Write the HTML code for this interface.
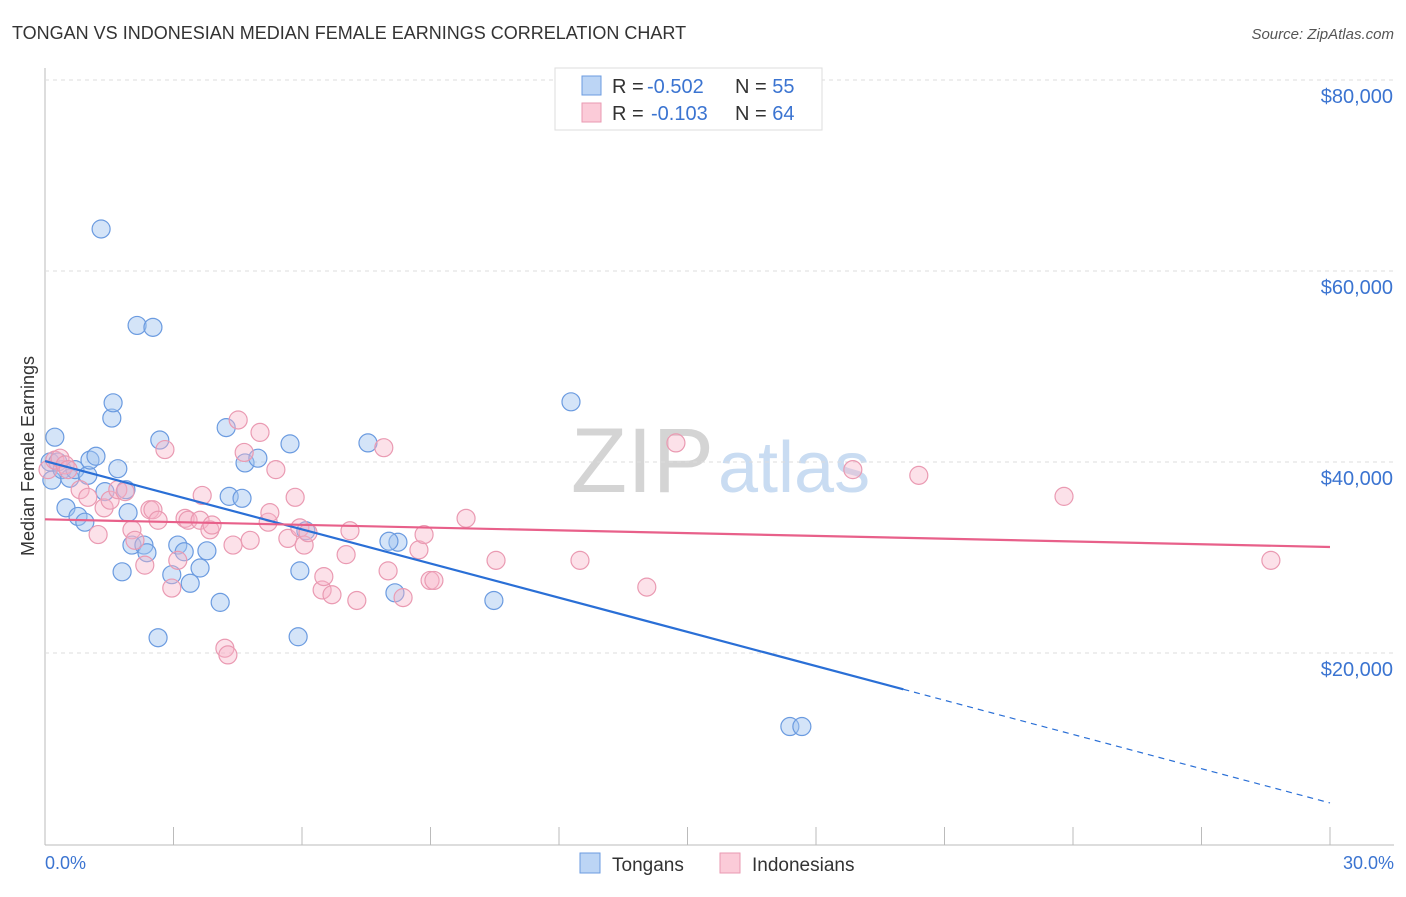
<!DOCTYPE html>
<html><head><meta charset="utf-8"><style>
body{margin:0;background:#fff;font-family:"Liberation Sans",sans-serif}
svg text{font-family:"Liberation Sans",sans-serif}
</style></head><body>
<svg id="c" width="1406" height="892">
<text x="12" y="39" font-size="18" fill="#333">TONGAN VS INDONESIAN MEDIAN FEMALE EARNINGS CORRELATION CHART</text>
<text x="1394" y="39" font-size="15" fill="#555" font-style="italic" text-anchor="end">Source: ZipAtlas.com</text>
<text x="714" y="492" font-size="92" fill="#d4d4d4" text-anchor="end" font-family="Liberation Serif">ZIP</text>
<text x="718" y="492" font-size="72" fill="#c9dcf2">atlas</text>
<g id="grid"></g><g id="pts"></g><g id="lines"></g>
<text transform="translate(34,456) rotate(-90)" font-size="18" fill="#333" text-anchor="middle">Median Female Earnings</text>
<text x="45" y="869" font-size="18" fill="#3b74d1">0.0%</text>
<text x="1394" y="869" font-size="18" fill="#3b74d1" text-anchor="end">30.0%</text>
<g>
<rect x="555" y="68" width="267" height="62" fill="#fff" stroke="#ddd"/>
<rect x="582" y="76" width="19" height="19" fill="#bcd5f5" stroke="#6b9be0"/>
<rect x="582" y="103" width="19" height="19" fill="#fbcbd8" stroke="#ea9ab2"/>
<text x="612" y="93" font-size="20" fill="#333">R =</text>
<text x="647" y="93" font-size="20" fill="#3b74d1">-0.502</text>
<text x="735" y="93" font-size="20" fill="#333">N = <tspan fill="#3b74d1">55</tspan></text>
<text x="612" y="120" font-size="20" fill="#333">R =</text>
<text x="651" y="120" font-size="20" fill="#3b74d1">-0.103</text>
<text x="735" y="120" font-size="20" fill="#333">N = <tspan fill="#3b74d1">64</tspan></text>
</g>
<g>
<rect x="580" y="853" width="20" height="20" fill="#bcd5f5" stroke="#6b9be0"/>
<text x="612" y="871" font-size="19" fill="#333">Tongans</text>
<rect x="720" y="853" width="20" height="20" fill="#fbcbd8" stroke="#ea9ab2"/>
<text x="752" y="871" font-size="19" fill="#333">Indonesians</text>
</g>
</svg>
<script>
const yTicks=[20000,40000,60000,80000];
const yTickLabels=["$20,000","$40,000","$60,000","$80,000"];
const tonganX=[0.12,0.16,0.23,0.30,0.40,0.49,0.58,0.70,0.77,0.93,1.00,1.05,1.19,1.31,1.40,1.56,1.59,1.70,1.80,1.89,1.94,2.03,2.15,2.31,2.38,2.52,2.64,2.68,2.96,3.10,3.25,3.39,3.62,3.78,4.09,4.23,4.30,4.60,4.67,4.97,5.72,5.91,5.95,6.09,7.54,8.17,8.24,8.03,10.48,12.28,17.39,17.67];
const tonganY=[40000,38100,42600,40000,39200,35200,38300,39200,34300,33700,38600,40200,40600,64400,36900,44600,46200,39300,28500,37100,34700,31300,54300,31300,30500,54100,21600,42300,28200,31300,30600,27300,28900,30700,25300,43600,36400,36200,39900,40400,41900,21700,28600,32800,42000,26300,31600,31700,25500,46300,12300,12300];
const indoX=[0.07,0.23,0.35,0.47,0.54,0.82,1.00,1.24,1.38,1.52,1.70,1.87,2.03,2.10,2.33,2.45,2.52,2.64,2.80,2.96,3.10,3.27,3.34,3.62,3.67,3.85,3.90,4.20,4.27,4.39,4.51,4.65,4.79,5.02,5.21,5.25,5.39,5.67,5.84,5.95,6.05,6.14,6.47,6.51,6.70,7.03,7.12,7.28,7.91,8.01,8.36,8.73,8.85,8.99,9.08,9.83,10.53,12.49,14.05,14.73,18.86,20.40,23.79,28.62];
const indoY=[39200,40200,40400,39700,39200,37100,36300,32400,35200,36000,37100,36900,32900,31800,29200,35000,35000,33900,41300,26800,29700,34100,33900,33900,36500,32900,33400,20500,19800,31300,44400,41000,31800,43100,33700,34700,39200,32000,36300,33100,31300,32600,26600,28000,26100,30300,32800,25500,41500,28600,25800,30800,32400,27600,27600,34100,29700,29700,26900,42000,39200,38600,36400,29700];
const tonganTrend=[40100,16200,4300];
const trendX=[0,20.04,30];
const indoTrend=[34000,31100];
const NS='http://www.w3.org/2000/svg';
const X=v=>45+v/30*1285, Y=v=>844-v/20000*191;
function mk(t,a,p){const e=document.createElementNS(NS,t);for(const k in a)e.setAttribute(k,a[k]);p.appendChild(e);return e;}
const g=document.getElementById('grid');
const ax=mk('line',{x1:45,y1:68,x2:45,y2:845,stroke:'#bbb'},g);


const bx=mk('line',{x1:45,y1:845,x2:1394,y2:845,stroke:'#bbb'},g);


for(let i=0;i<=10;i++){const t=mk('line',{x1:X(i*3),x2:X(i*3),y1:827,y2:845,stroke:'#bbb'},g);

}
yTicks.forEach((v,i)=>{const l=mk('line',{x1:45,x2:1394,y1:Y(v),y2:Y(v),stroke:'#ddd','stroke-dasharray':'4,4'},g);


const t=mk('text',{x:1393,y:Y(v)+23,'font-size':20,fill:'#3b74d1','text-anchor':'end'},g);t.textContent=yTickLabels[i];

});
const p=document.getElementById('pts');
tonganX.forEach((x,i)=>{const c=mk('circle',{cx:X(x),cy:Y(tonganY[i]),r:9,fill:'rgba(160,196,240,0.45)',stroke:'#6b9be0','stroke-width':1.2},p);

});
indoX.forEach((x,i)=>{const c=mk('circle',{cx:X(x),cy:Y(indoY[i]),r:9,fill:'rgba(248,180,200,0.4)',stroke:'#ea9ab2','stroke-width':1.2},p);

});
const L=document.getElementById('lines');
const a=mk('line',{x1:X(trendX[0]),y1:Y(tonganTrend[0]),x2:X(trendX[1]),y2:Y(tonganTrend[1]),stroke:'#2a6fd6','stroke-width':2.2},L);


const b=mk('line',{x1:X(trendX[1]),y1:Y(tonganTrend[1]),x2:X(trendX[2]),y2:Y(tonganTrend[2]),stroke:'#2a6fd6','stroke-width':1.2,'stroke-dasharray':'6,5'},L);


const c=mk('line',{x1:X(0),y1:Y(indoTrend[0]),x2:X(30),y2:Y(indoTrend[1]),stroke:'#e8608a','stroke-width':2.2},L);


</script>
</body></html>
